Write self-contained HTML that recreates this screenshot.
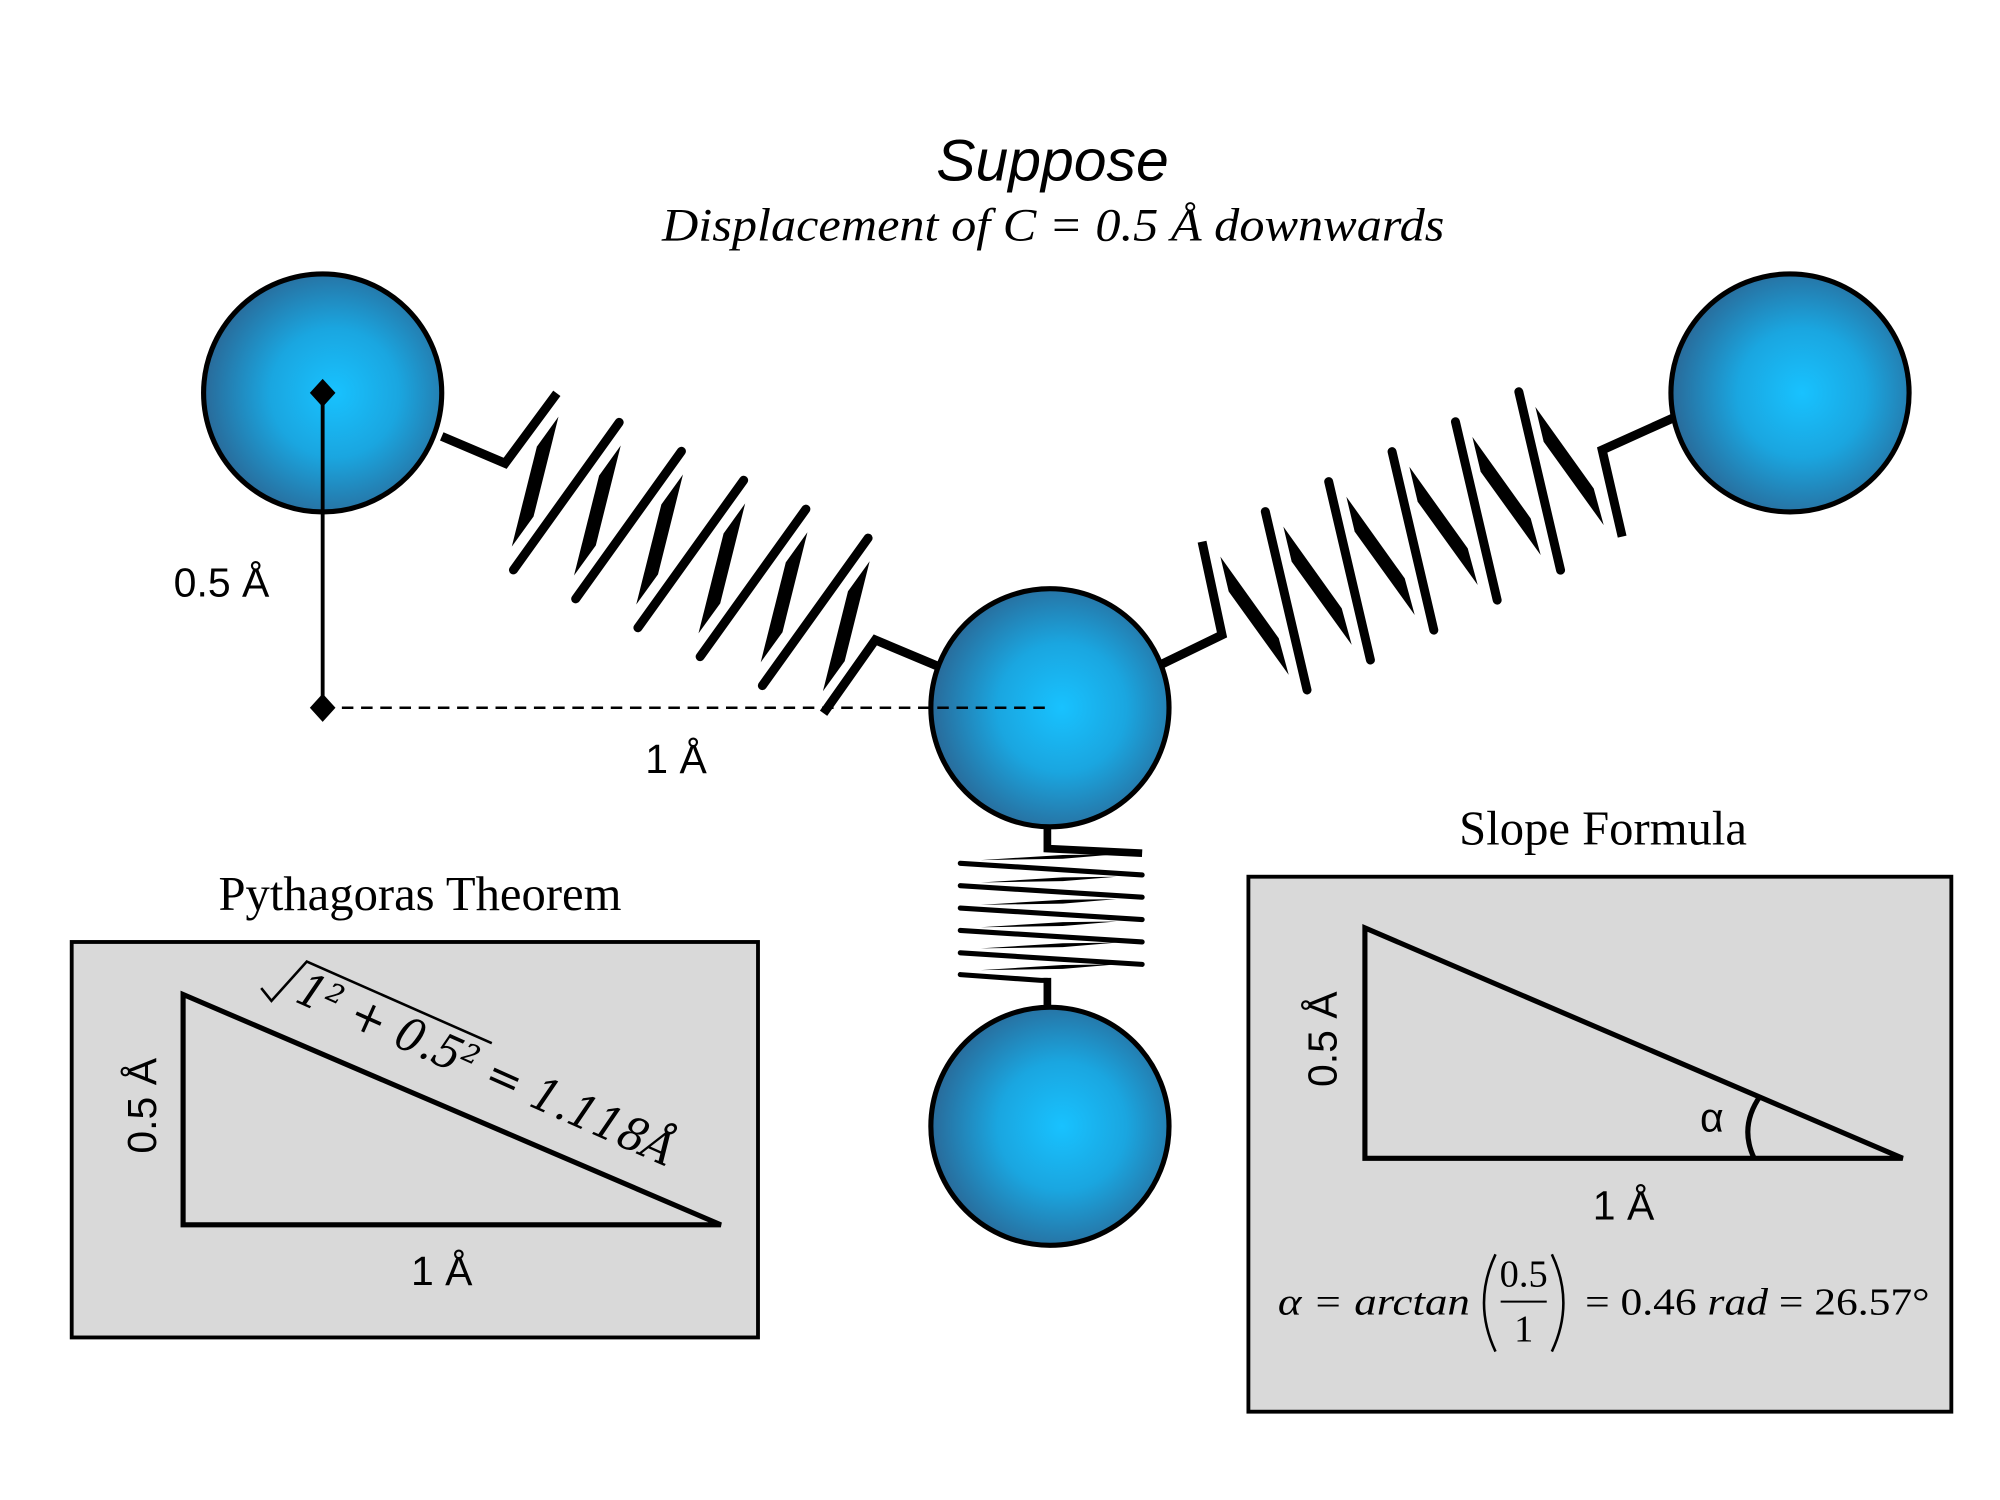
<!DOCTYPE html>
<html><head><meta charset="utf-8"><style>
html,body{margin:0;padding:0;background:#fff}
svg{display:block}
</style></head><body>
<svg width="2000" height="1500" viewBox="0 0 1562 1172" preserveAspectRatio="none" xmlns="http://www.w3.org/2000/svg">
<defs>
<radialGradient id="g" cx="0.55" cy="0.5" r="0.6">
<stop offset="0" stop-color="#18c2ff"/>
<stop offset="0.45" stop-color="#1aa6e0"/>
<stop offset="1" stop-color="#2c5f8c"/>
</radialGradient>
<g id="lw"><polygon points="436.2,325.5 419.3,349 399.7,427.1 416.7,403.6"/></g>
<g id="ll"><line x1="483.6" y1="330" x2="401" y2="445.3"/></g>
<g id="rw"><polygon points="953.1,434.9 959.6,462.2 1006.5,527.3 998.7,498.7"/></g>
<g id="rl"><line x1="988.2" y1="399.7" x2="1020.8" y2="539.1"/></g>
</defs>

<text x="822" y="141" text-anchor="middle" font-family="Liberation Sans, sans-serif" font-style="italic" font-size="46">Suppose</text>
<text x="517" y="188" font-family="Liberation Serif, serif" font-style="italic" font-size="36" textLength="611" lengthAdjust="spacingAndGlyphs">Displacement of C = 0.5 Å downwards</text>

<!-- left spring -->
<g stroke="#000" stroke-width="7" stroke-linecap="round" stroke-linejoin="miter" fill="none">
<polyline points="345,341 394.5,362 434.9,307.3" stroke-linecap="butt"/>
<polyline points="643.2,557.3 683.6,500 733,520.8" stroke-linecap="butt"/>
<use href="#ll"/>
<use href="#ll" transform="translate(48.6,22.6)"/>
<use href="#ll" transform="translate(97.2,45.2)"/>
<use href="#ll" transform="translate(145.8,67.8)"/>
<use href="#ll" transform="translate(194.4,90.4)"/>
</g>
<g fill="#000">
<use href="#lw"/>
<use href="#lw" transform="translate(48.6,22.6)"/>
<use href="#lw" transform="translate(97.2,45.2)"/>
<use href="#lw" transform="translate(145.8,67.8)"/>
<use href="#lw" transform="translate(194.4,90.4)"/>
<use href="#lw" transform="translate(243,113)"/>
</g>

<!-- right spring -->
<g stroke="#000" stroke-width="7" stroke-linecap="round" fill="none">
<polyline points="906.2,519.5 954.4,496.1 938.8,423.2" stroke-linecap="butt"/>
<polyline points="1266.9,419.3 1251.3,351.6 1308,326" stroke-linecap="butt"/>
<use href="#rl"/>
<use href="#rl" transform="translate(49.5,-23.4)"/>
<use href="#rl" transform="translate(99,-46.8)"/>
<use href="#rl" transform="translate(148.5,-70.2)"/>
<use href="#rl" transform="translate(198,-93.6)"/>
</g>
<g fill="#000">
<use href="#rw"/>
<use href="#rw" transform="translate(49.2,-23.4)"/>
<use href="#rw" transform="translate(98.4,-46.8)"/>
<use href="#rw" transform="translate(147.6,-70.2)"/>
<use href="#rw" transform="translate(196.8,-93.6)"/>
<use href="#rw" transform="translate(246,-117)"/>
</g>

<!-- bottom spring -->
<g stroke="#000" stroke-width="4" stroke-linecap="round" fill="none">
<polyline points="818,640 818,663 892,666.6" stroke-width="6" stroke-linecap="butt"/>
<line x1="750" y1="674.5" x2="892" y2="683.6"/>
<line x1="750" y1="692" x2="892" y2="701"/>
<line x1="750" y1="709.5" x2="892" y2="718.5"/>
<line x1="750" y1="727" x2="892" y2="736"/>
<line x1="750" y1="744.5" x2="892" y2="753.5"/>
<polyline points="750,761.5 813,766 818,766" />
<line x1="818" y1="764" x2="818" y2="790" stroke-width="6" stroke-linecap="butt"/>
</g>
<g fill="#000">
<polygon points="766,672 830,668 872,667.5 830,671"/>
<polygon points="766,689.5 830,685.5 872,685 830,688.5"/>
<polygon points="766,707 830,703 872,702.5 830,706"/>
<polygon points="766,724.5 830,720.5 872,720 830,723.5"/>
<polygon points="766,741 830,737 872,736.5 830,740"/>
<polygon points="766,758 830,754 872,753.5 830,757"/>
</g>

<!-- circles -->
<g stroke="#000" stroke-width="4" fill="url(#g)">
<circle cx="252" cy="307" r="93"/>
<circle cx="1398" cy="307" r="93"/>
<circle cx="820" cy="553" r="93"/>
<circle cx="820" cy="880" r="93"/>
</g>

<!-- measure -->
<line x1="252" y1="553" x2="822" y2="553" stroke="#000" stroke-width="2" stroke-dasharray="9,6"/>
<line x1="252" y1="307" x2="252" y2="553" stroke="#000" stroke-width="3"/>
<polygon points="252,296 262,307 252,318 242,307" fill="#000"/>
<polygon points="252,542 262,553 252,564 242,553" fill="#000"/>
<text x="173" y="466" text-anchor="middle" font-family="Liberation Sans, sans-serif" font-size="32">0.5 Å</text>
<text x="528" y="604" text-anchor="middle" font-family="Liberation Sans, sans-serif" font-size="32">1 Å</text>

<!-- Pythagoras -->
<text x="328" y="711" text-anchor="middle" font-family="Liberation Serif, serif" font-size="38">Pythagoras Theorem</text>
<rect x="56" y="736" width="536" height="309" fill="#d9d9d9" stroke="#000" stroke-width="3"/>
<polygon points="143,777 143,957 563,957" fill="none" stroke="#000" stroke-width="4"/>
<text transform="translate(122,864) rotate(-90)" text-anchor="middle" font-family="Liberation Sans, sans-serif" font-size="32">0.5 Å</text>
<text x="345" y="1004" text-anchor="middle" font-family="Liberation Sans, sans-serif" font-size="32">1 Å</text>
<polyline points="204,772 212,782 239.6,751.3 384.1,815.1" fill="none" stroke="#000" stroke-width="2"/>
<text transform="translate(229,782) rotate(24)" font-family="DejaVu Serif, serif" font-style="italic" font-size="36" textLength="320" lengthAdjust="spacingAndGlyphs">1² + 0.5² = 1.118Å</text>

<!-- Slope -->
<text x="1252" y="660" text-anchor="middle" font-family="Liberation Serif, serif" font-size="38">Slope Formula</text>
<rect x="975" y="685" width="549" height="418" fill="#d9d9d9" stroke="#000" stroke-width="3"/>
<polygon points="1066,725 1066,905 1486,905" fill="none" stroke="#000" stroke-width="4"/>
<path d="M1375,856 Q1358,880 1370,905" fill="none" stroke="#000" stroke-width="4"/>
<text x="1337" y="884" text-anchor="middle" font-family="Liberation Sans, sans-serif" font-size="32">α</text>
<text transform="translate(1044,812) rotate(-90)" text-anchor="middle" font-family="Liberation Sans, sans-serif" font-size="32">0.5 Å</text>
<text x="1268" y="953" text-anchor="middle" font-family="Liberation Sans, sans-serif" font-size="32">1 Å</text>
<g font-family="Liberation Serif, serif" font-size="30">
<text x="998" y="1027" font-style="italic" textLength="150" lengthAdjust="spacingAndGlyphs">α = arctan</text>
<text x="1190" y="1005" text-anchor="middle">0.5</text>
<text x="1190" y="1048" text-anchor="middle">1</text>
<text x="1238" y="1027" textLength="269" lengthAdjust="spacingAndGlyphs">= 0.46 <tspan font-style="italic">rad</tspan> = 26.57°</text>
</g>
<line x1="1172" y1="1017" x2="1208" y2="1017" stroke="#000" stroke-width="1.5"/>
<path d="M1168,980 Q1150,1018 1168,1056" fill="none" stroke="#000" stroke-width="2"/>
<path d="M1212,980 Q1230,1018 1212,1056" fill="none" stroke="#000" stroke-width="2"/>
</svg>
</body></html>
